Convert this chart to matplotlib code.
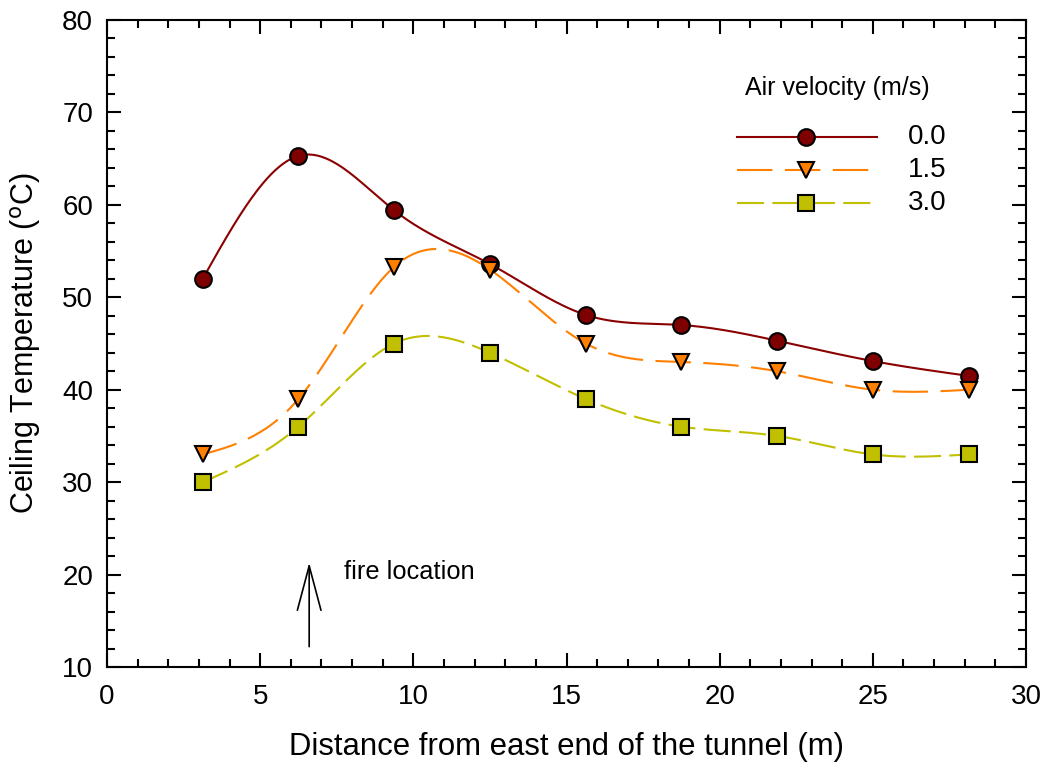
import numpy as np
import matplotlib
matplotlib.use("Agg")
import matplotlib.pyplot as plt
from matplotlib.ticker import MultipleLocator

distance = [3.125, 6.25, 9.375, 12.5, 15.625, 18.75, 21.875, 25.0, 28.125]
temp_00 = [52.0, 65.3, 59.4, 53.6, 48.1, 47.0, 45.3, 43.1, 41.5]
temp_15 = [33.0, 39.0, 53.3, 53.0, 45.0, 43.0, 42.0, 40.0, 40.0]
temp_30 = [30.0, 36.0, 45.0, 44.0, 39.0, 36.0, 35.0, 33.0, 33.0]
labels = ["0.0", "1.5", "3.0"]


def natural_spline(x, y, n=400):
    x = np.asarray(x, float); y = np.asarray(y, float)
    N = len(x); h = np.diff(x)
    A = np.zeros((N, N)); b = np.zeros(N)
    A[0, 0] = 1; A[-1, -1] = 1
    for i in range(1, N - 1):
        A[i, i - 1] = h[i - 1]; A[i, i] = 2 * (h[i - 1] + h[i]); A[i, i + 1] = h[i]
        b[i] = 6 * ((y[i + 1] - y[i]) / h[i] - (y[i] - y[i - 1]) / h[i - 1])
    M = np.linalg.solve(A, b)
    xs = np.linspace(x[0], x[-1], n)
    idx = np.clip(np.searchsorted(x, xs) - 1, 0, N - 2)
    x0 = x[idx]; x1 = x[idx + 1]; hh = x1 - x0
    ys = (M[idx] * (x1 - xs) ** 3 / (6 * hh) + M[idx + 1] * (xs - x0) ** 3 / (6 * hh)
          + (y[idx] / hh - M[idx] * hh / 6) * (x1 - xs)
          + (y[idx + 1] / hh - M[idx + 1] * hh / 6) * (xs - x0))
    return xs, ys


plt.rcParams['font.family'] = ['Liberation Sans', 'DejaVu Sans']
W, H = 1047, 765
L, R, T, B = 107, 1026, 20, 667
fig = plt.figure(figsize=(W / 100, H / 100), dpi=100)
ax = fig.add_axes([L / W, 1 - B / H, (R - L) / W, (B - T) / H])


def fx(px):
    return (px - L) / (R - L)


def fy(py):
    return (B - py) / (B - T)


styles = [
    dict(line='#8b0000', face='#7f0000', marker='o', ms=12, dash=None),
    dict(line='#ff8000', face='#ff8000', marker='v', ms=12, dash=(17, 6)),
    dict(line='#c0c000', face='#c0c000', marker='s', ms=11, dash=(13, 4)),
]
leg_y = [137, 170, 203]
for ys, st, lab, ly in zip([temp_00, temp_15, temp_30], styles, labels, leg_y):
    sx, sy = natural_spline(distance, ys)
    ln, = ax.plot(sx, sy, color=st['line'], lw=1.5, zorder=2)
    if st['dash']:
        ln.set_dashes(st['dash'])
    ax.plot(distance, ys, ls='none', marker=st['marker'], ms=st['ms'],
            mfc=st['face'], mec='black', mew=1.5, zorder=3)
    # legend entry
    hl, = ax.plot([fx(737), fx(877)], [fy(ly), fy(ly)], color=st['line'], lw=1.5,
                  transform=ax.transAxes, clip_on=False)
    if st['dash']:
        hl.set_dashes(st['dash'])
    ax.plot([fx(806)], [fy(ly)], marker=st['marker'], ms=st['ms'], mfc=st['face'],
            mec='black', mew=1.5, transform=ax.transAxes, clip_on=False, zorder=4)
    ax.text(fx(908), fy(ly), lab, fontsize=20, va='center', ha='left',
            transform=ax.transAxes)

ax.text(fx(745), fy(88), 'Air velocity (m/s)', fontsize=18, va='center', ha='left',
        transform=ax.transAxes)

ax.set_xlim(0, 30)
ax.set_ylim(10, 80)
ax.xaxis.set_major_locator(MultipleLocator(5))
ax.xaxis.set_minor_locator(MultipleLocator(1))
ax.yaxis.set_major_locator(MultipleLocator(10))
ax.yaxis.set_minor_locator(MultipleLocator(2))
ax.tick_params(which='both', direction='in', top=True, right=True, width=1.5,
               labelsize=20)
ax.tick_params(axis='x', pad=12)
ax.tick_params(axis='y', pad=10)
ax.tick_params(which='major', length=10)
ax.tick_params(which='minor', length=6)
for s in ax.spines.values():
    s.set_linewidth(1.5)

ax.set_xlabel('Distance from east end of the tunnel (m)', fontsize=22.4, labelpad=16)
ax.set_ylabel('Ceiling Temperature ($^{\\mathrm{o}}$C)', fontsize=22, labelpad=14)

ax.annotate('', xy=(6.6, 21.3), xytext=(6.6, 12.2),
            arrowprops=dict(arrowstyle='->,head_length=3.2,head_width=0.85',
                            color='black', lw=1.2, shrinkA=0, shrinkB=0))
ax.text(7.74, 20.3, 'fire location', fontsize=18.3, va='center', ha='left')

fig.savefig('out.png', dpi=100)
